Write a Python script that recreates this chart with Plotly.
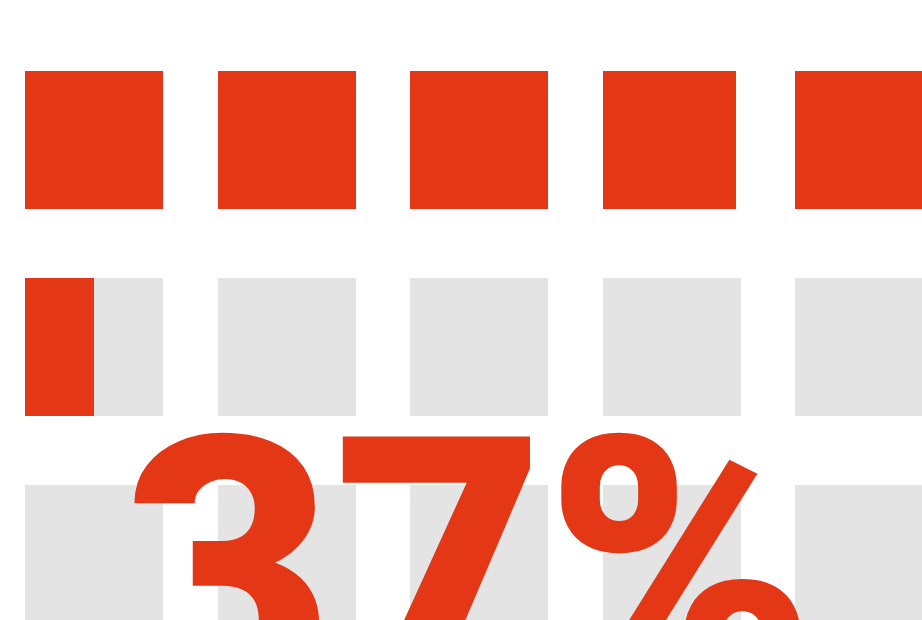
import plotly.graph_objects as go

# Waffle-style grid: fill fraction of each visible cell (rows x columns)
columns = [0, 1, 2, 3, 4]
rows = [0, 1, 2]
fill = [
    [1.0, 1.0, 1.0, 0.964, 1.0],
    [0.5, 0.0, 0.0, 0.0, 0.0],
    [0.0, 0.0, 0.0, 0.0, 0.0],
]
show_background = [
    [False, False, False, False, False],
    [True, True, True, True, True],
    [True, True, True, True, True],
]
headline = "37%"

RED = "#E33715"
GREY = "#E4E4E4"
CELL_W = 138 / 192.5      # cell width in column units
CELL_H = 138 / 207        # cell height in row units

FIG_W, FIG_H = 922, 620

fig = go.Figure()

# grey backgrounds
bx, by, bbase = [], [], []
for r in rows:
    for c in columns:
        if show_background[r][c]:
            bx.append(c)
            by.append(CELL_H)
            bbase.append(r - CELL_H / 2)
fig.add_trace(go.Bar(x=bx, y=by, base=bbase, width=CELL_W, offset=-CELL_W / 2,
                     marker=dict(color=GREY, line=dict(width=0)), hoverinfo="skip"))

# red fills
rx, ry, rbase, rw = [], [], [], []
for r in rows:
    for c in columns:
        if fill[r][c] > 0:
            rx.append(c)
            ry.append(CELL_H)
            rbase.append(r - CELL_H / 2)
            rw.append(CELL_W * fill[r][c])
fig.add_trace(go.Bar(x=rx, y=ry, base=rbase, width=rw, offset=-CELL_W / 2,
                     marker=dict(color=RED, line=dict(width=0)), hoverinfo="skip"))

fig.add_annotation(text=headline, xref="paper", yref="paper", x=0.509, y=0.4274,
                   xanchor="center", yanchor="top", showarrow=False,
                   font=dict(family="Roboto", size=365, color=RED, weight=900))

fig.update_layout(
    width=FIG_W, height=FIG_H, margin=dict(l=0, r=0, t=0, b=0),
    paper_bgcolor="white", plot_bgcolor="white", barmode="overlay",
    showlegend=False, bargap=0,
    xaxis=dict(range=[-94 / 192.5, (FIG_W - 94) / 192.5], visible=False, fixedrange=True),
    yaxis=dict(range=[(FIG_H - 140) / 207, -140 / 207], visible=False, fixedrange=True),
)

fig.write_html("out.html", config={"displayModeBar": False},
               post_script="document.body.style.margin='0';document.body.style.overflow='hidden';")
